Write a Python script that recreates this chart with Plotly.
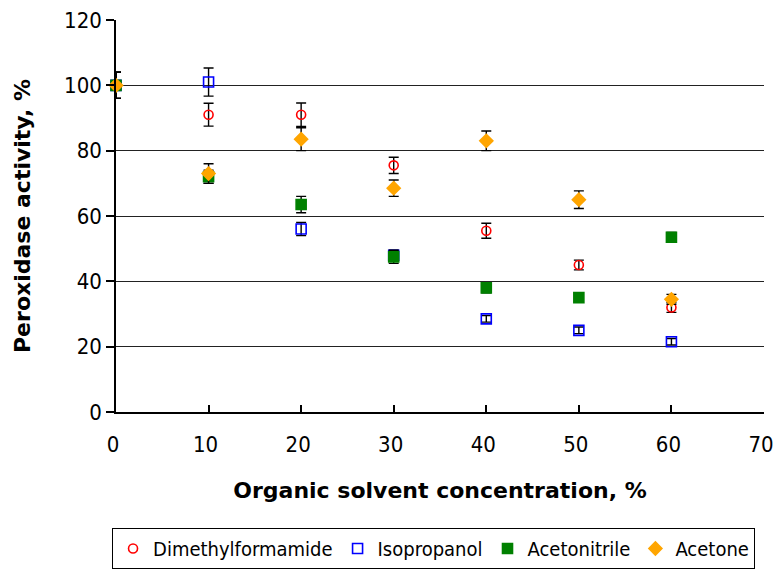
import plotly.graph_objects as go

# Organic solvent concentration, %
concentration = [0, 10, 20, 30, 40, 50, 60]

# Peroxidase activity, % (mean and error) per solvent
dmf = [100, 91, 91, 75.5, 55.5, 45, 32]
dmf_err = [4, 3.5, 3.6, 2.5, 2.3, 1.5, 1.5]

isopropanol = [100, 101, 56, 48, 28.5, 25, 21.5]
isopropanol_err = [4, 4.3, 2, 1.5, 1, 1, 1]

acetonitrile = [100, 72, 63.5, 47.5, 38, 35, 53.5]
acetonitrile_err = [4, 2, 2.5, 2, 1.5, 1.2, 1.5]

acetone = [100, 73, 83.5, 68.5, 83, 65, 34.5]
acetone_err = [4, 3, 3.5, 2.5, 3, 2.7, 1.5]

series = [
    ("Dimethylformamide", dmf, dmf_err, "circle-open", "#FF0000", 9),
    ("Isopropanol", isopropanol, isopropanol_err, "square-open", "#0000FF", 10),
    ("Acetonitrile", acetonitrile, acetonitrile_err, "square", "#008000", 10),
    ("Acetone", acetone, acetone_err, "diamond", "#FFA500", 10),
]

NARROW = "DejaVu Sans Condensed, Liberation Sans Narrow, Arial Narrow, Liberation Sans, Arial, sans-serif"
BOLD = "DejaVu Sans, Verdana, Liberation Sans, Arial, sans-serif"

fig = go.Figure()
for name, vals, errs, sym, col, size in series:
    fig.add_trace(go.Scatter(
        x=concentration, y=vals, name=name, mode="markers",
        marker=dict(symbol=sym, color=col, size=size,
                    line=dict(color=col, width=1.6)),
        error_y=dict(type="data", array=errs, visible=True,
                     color="black", thickness=1.4, width=5),
        cliponaxis=False,
    ))

fig.update_layout(
    width=775, height=569,
    paper_bgcolor="white", plot_bgcolor="white",
    margin=dict(l=116, r=11, t=20, b=157, autoexpand=False),
    showlegend=True,
    legend=dict(
        orientation="h", xref="container", x=0.5594, xanchor="center",
        yref="container", y=0.0, yanchor="bottom",
        bordercolor="black", borderwidth=1,
        font=dict(family=NARROW, size=20, color="black"),
        itemwidth=30, tracegroupgap=0,
    ),
)
fig.update_xaxes(
    range=[0, 70], tickvals=list(range(0, 71, 10)),
    showgrid=False, zeroline=False,
    showline=True, linecolor="black", linewidth=1.5,
    ticks="inside", ticklen=7, tickcolor="black", tickwidth=1.5,
    ticklabeloverflow="allow", ticklabelstandoff=12, ticklabelshift=-3,
    tickfont=dict(family=NARROW, size=22, color="black"),
    title=dict(text="<b>Organic solvent concentration, %</b>",
               font=dict(family=BOLD, size=22, color="black"), standoff=26),
)
fig.update_yaxes(
    range=[0, 120], tickvals=list(range(0, 121, 20)),
    showgrid=True, gridcolor="#222222", gridwidth=1.3, zeroline=False,
    showline=True, linecolor="black", linewidth=1.5,
    ticks="outside", ticklen=8, tickcolor="black", tickwidth=1.5,
    tickfont=dict(family=NARROW, size=22, color="black"),
    title=dict(text="<b>Peroxidase activity, %</b>",
               font=dict(family=BOLD, size=22, color="black"), standoff=27),
)

fig.write_html("out.html")
